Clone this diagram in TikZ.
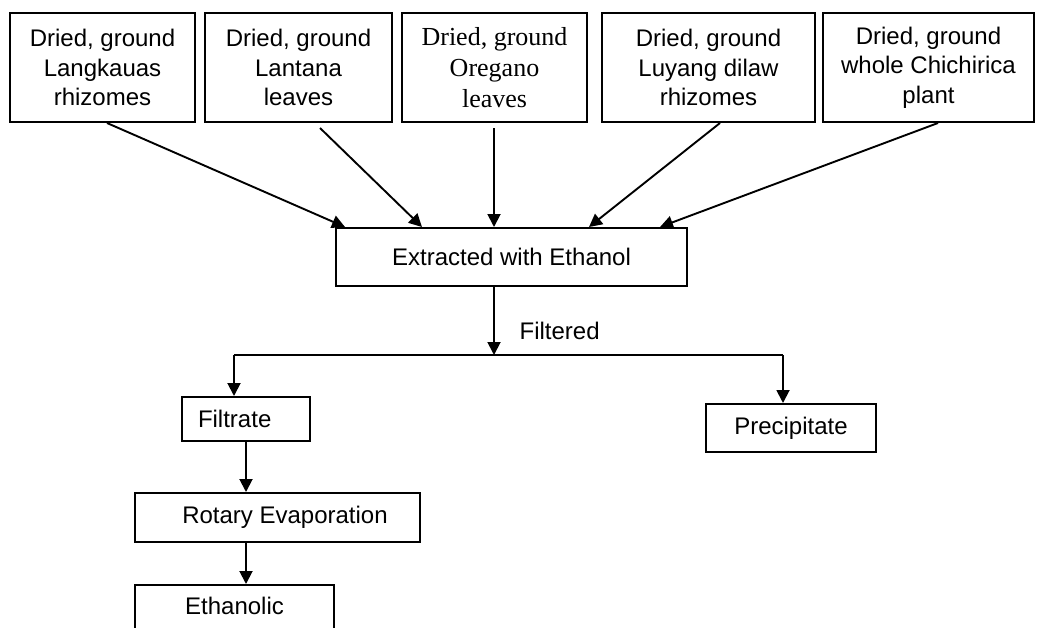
\documentclass[tikz,border=0pt]{standalone}
\usepackage{fontspec}
\setmainfont{Liberation Sans}
\newfontfamily\timesfont{Liberation Serif}
\usetikzlibrary{arrows.meta,calc}

\begin{document}
\begin{tikzpicture}[x=0.5pt, y=-0.5pt, font=\fontsize{12}{14.75}\selectfont,
    box/.style={draw, line width=1pt, inner sep=0pt, align=center},
    arr/.style={-{Triangle[length=6.5pt,width=6.5pt]}, line width=0.95pt}]
  \useasboundingbox (0,0) rectangle (1038,627);
  \clip (0,0) rectangle (1038,627);
  % plant materials
  \node[box, minimum width=92.5pt, minimum height=54.5pt] (lang) at (102.5,67.5) {Dried, ground\\Langkauas\\rhizomes};
  \node[box, minimum width=93.5pt, minimum height=54.5pt] (lant) at (298.5,67.5) {Dried, ground\\Lantana\\leaves};
  \node[box, minimum width=92.5pt, minimum height=54.5pt,
        font=\timesfont\fontsize{13}{15.5}\selectfont] (oreg) at (494.5,67.5) {Dried, ground\\Oregano\\leaves};
  \node[box, minimum width=106.5pt, minimum height=54.5pt] (luya) at (708.5,67.5) {Dried, ground\\Luyang dilaw\\rhizomes};
  \node[box, minimum width=105.5pt, minimum height=54.5pt] (chic) at (928.5,67.5) {Dried, ground\\whole Chichirica\\plant};
  % extraction
  \node[box, minimum width=175.5pt, minimum height=29pt] (extr) at (511.5,257) {Extracted with Ethanol};
  \draw[arr] ($(lang.south)+(4.5,0)$) -- ($(extr.north)+(-166.5,0)$);
  \draw[arr] ($(lant.south)+(21.5,5)$) -- ($(extr.north)+(-89.5,0)$);
  \draw[arr] ($(oreg.south)+(-0.5,5)$) -- ($(extr.north)+(-17.5,0)$);
  \draw[arr] ($(luya.south)+(11.5,0)$) -- ($(extr.north)+(77.5,0)$);
  \draw[arr] ($(chic.south)+(9.5,0)$) -- ($(extr.north)+(148.5,0)$);
  % filtering
  \coordinate (fork) at (494,355);
  \coordinate (forkL) at (234,355);
  \coordinate (forkR) at (783,355);
  \draw[arr] ($(extr.south)+(-17.5,0)$) -- (fork)
        node[pos=0.64, anchor=west, xshift=9pt] (filtd) {Filtered};
  \draw[line width=0.95pt] (forkL) -- (forkR);
  \node[box, minimum width=64pt, minimum height=22pt, inner xsep=8pt, text width=48pt, align=left] (filt) at (246,419) {Filtrate};
  \node[box, minimum width=85pt, minimum height=24pt] (prec) at (791,428) {Precipitate};
  \draw[arr] (forkL) -- (forkL |- filt.north);
  \draw[arr] (forkR) -- (forkR |- prec.north);
  % evaporation
  \node[box, minimum width=142.5pt, minimum height=24.5pt] (rot) at (277.5,517.5) {\hspace{7.5pt}Rotary Evaporation};
  \node[box, anchor=north, minimum width=99.5pt, inner ysep=6pt, text depth=20pt] (eth) at (234.5,584) {Ethanolic};
  \draw[arr] (filt.south) -- (filt.south |- rot.north);
  \draw[arr] (filt.south |- rot.south) -- (filt.south |- eth.north);
\end{tikzpicture}
\end{document}
